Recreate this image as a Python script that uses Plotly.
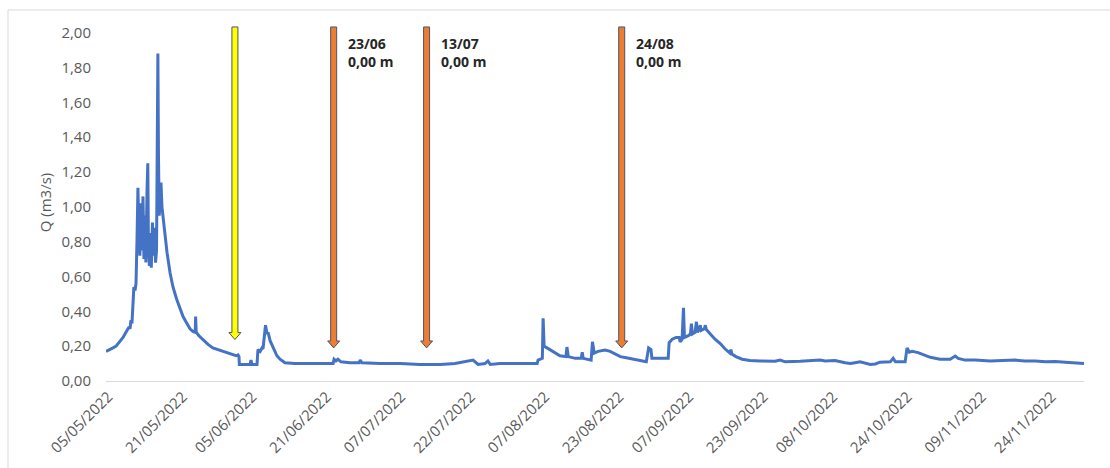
import pandas as pd
import plotly.graph_objects as go

# Discharge record (m3/s), one list pair per month: "MM-DDTHH" stamps and flow values
may_t = ["05-05T00", "05-05T21", "05-06T12", "05-07T04", "05-07T16", "05-08T00", "05-08T16",
         "05-09T02", "05-09T12", "05-09T23", "05-10T04", "05-10T09", "05-10T14", "05-10T19",
         "05-11T00", "05-11T06", "05-11T11", "05-11T16", "05-11T21", "05-12T02", "05-12T07",
         "05-12T12", "05-12T18", "05-12T23", "05-13T04", "05-13T10", "05-13T14", "05-13T20",
         "05-14T00", "05-14T03", "05-14T08", "05-14T13", "05-14T18", "05-15T00", "05-15T05",
         "05-15T10", "05-15T16", "05-15T21", "05-16T01", "05-16T04", "05-16T07", "05-16T11",
         "05-16T16", "05-16T20", "05-17T01", "05-17T06", "05-17T17", "05-18T03", "05-18T19",
         "05-19T10", "05-20T05", "05-20T22", "05-21T14", "05-22T05", "05-23T02", "05-23T17",
         "05-24T05", "05-24T07", "05-24T10", "05-25T00", "05-25T22", "05-26T23", "05-28T00",
         "05-29T02", "05-30T05", "05-31T06"]
may_q = [0.17, 0.18, 0.19, 0.20, 0.215, 0.225, 0.25,
         0.27, 0.29, 0.31, 0.30, 0.35, 0.33, 0.50,
         0.54, 0.52, 0.56, 0.80, 1.11, 0.85, 0.72,
         1.02, 0.75, 1.06, 0.70, 0.95, 0.68, 1.10,
         1.25, 0.80, 0.66, 0.85, 0.65, 0.91, 0.72,
         0.88, 0.68, 0.75, 1.50, 1.88, 1.30, 0.95,
         1.05, 1.14, 1.00, 0.95, 0.85, 0.74, 0.62,
         0.54, 0.47, 0.42, 0.37, 0.34, 0.30, 0.285,
         0.28, 0.37, 0.28, 0.26, 0.235, 0.21, 0.19,
         0.18, 0.17, 0.16]

jun_t = ["06-01T08", "06-02T00", "06-02T10", "06-02T15", "06-02T17", "06-03T22", "06-05T00",
         "06-05T05", "06-05T10", "06-06T12", "06-06T17", "06-07T04", "06-07T14", "06-07T19",
         "06-08T00", "06-08T08", "06-08T16", "06-08T21", "06-09T08", "06-09T23", "06-10T19",
         "06-11T11", "06-12T12", "06-14T16", "06-16T20", "06-20T02", "06-22T21", "06-23T02",
         "06-23T12", "06-23T22", "06-24T14", "06-26T12", "06-28T12", "06-28T17", "06-29T02"]
jun_q = [0.15, 0.145, 0.15, 0.14, 0.095, 0.093, 0.095,
         0.12, 0.095, 0.095, 0.18, 0.17, 0.19, 0.185,
         0.25, 0.32, 0.27, 0.28, 0.23, 0.19, 0.145,
         0.125, 0.105, 0.10, 0.10, 0.10, 0.10, 0.125,
         0.115, 0.125, 0.11, 0.105, 0.105, 0.12, 0.105]

jul_t = ["07-03T00", "07-07T07", "07-11T14", "07-15T22", "07-19T03", "07-23T00", "07-24T02",
         "07-25T14", "07-26T05", "07-26T17", "07-28T19"]
jul_q = [0.10, 0.10, 0.095, 0.095, 0.10, 0.12, 0.095,
         0.10, 0.115, 0.095, 0.10]

aug_t = ["08-01T01", "08-04T07", "08-05T19", "08-06T00", "08-06T22", "08-07T02", "08-07T07",
         "08-07T22", "08-08T14", "08-09T16", "08-10T17", "08-12T00", "08-12T05", "08-12T12",
         "08-14T00", "08-15T07", "08-15T12", "08-15T17", "08-17T10", "08-17T17", "08-18T02",
         "08-18T22", "08-20T10", "08-21T12", "08-22T14", "08-23T17", "08-24T17", "08-25T19",
         "08-26T21", "08-28T00", "08-29T07", "08-29T19", "08-30T07", "08-30T12"]
aug_q = [0.10, 0.10, 0.10, 0.12, 0.13, 0.36, 0.20,
         0.19, 0.18, 0.165, 0.145, 0.14, 0.195, 0.14,
         0.13, 0.13, 0.165, 0.13, 0.12, 0.225, 0.16,
         0.17, 0.178, 0.17, 0.155, 0.14, 0.135, 0.13,
         0.125, 0.118, 0.11, 0.19, 0.18, 0.13]

sep_t = ["09-01T07", "09-03T00", "09-03T05", "09-03T21", "09-04T17", "09-05T09", "09-05T14",
         "09-06T00", "09-06T07", "09-06T12", "09-07T08", "09-07T19", "09-08T00", "09-08T05",
         "09-08T19", "09-09T02", "09-09T07", "09-09T17", "09-09T22", "09-10T02", "09-10T19",
         "09-11T00", "09-11T05", "09-12T00", "09-13T02", "09-14T05", "09-15T05", "09-16T07",
         "09-16T12", "09-16T17", "09-17T14", "09-18T22", "09-20T14", "09-22T19", "09-26T00",
         "09-27T02", "09-28T05"]
sep_q = [0.13, 0.13, 0.22, 0.24, 0.25, 0.25, 0.225,
         0.24, 0.42, 0.25, 0.26, 0.27, 0.33, 0.27,
         0.28, 0.34, 0.28, 0.30, 0.32, 0.29, 0.30,
         0.32, 0.295, 0.27, 0.24, 0.215, 0.185, 0.16,
         0.18, 0.155, 0.14, 0.125, 0.118, 0.115, 0.113,
         0.12, 0.11]

oct_t = ["10-01T10", "10-04T14", "10-05T17", "10-06T19", "10-08T22", "10-11T02", "10-12T05",
         "10-13T05", "10-14T07", "10-16T12", "10-17T14", "10-18T14", "10-20T19", "10-21T10",
         "10-21T22", "10-24T00", "10-24T05", "10-24T10", "10-24T22", "10-25T12", "10-26T19",
         "10-28T02", "10-29T10", "10-31T12"]
oct_q = [0.113, 0.115, 0.12, 0.115, 0.118, 0.105, 0.10,
         0.105, 0.11, 0.095, 0.098, 0.108, 0.11, 0.13,
         0.11, 0.11, 0.16, 0.19, 0.165, 0.17, 0.163,
         0.15, 0.136, 0.125]

nov_t = ["11-02T17", "11-03T19", "11-04T10", "11-05T22", "11-08T02", "11-11T07", "11-14T12",
         "11-16T17", "11-18T19", "11-21T00", "11-23T05", "11-25T07", "11-27T12", "11-29T14",
         "12-01T12"]
nov_q = [0.125, 0.143, 0.13, 0.12, 0.12, 0.115, 0.118,
         0.12, 0.115, 0.115, 0.11, 0.112, 0.108, 0.105,
         0.10]

stamps = may_t + jun_t + jul_t + aug_t + sep_t + oct_t + nov_t
flow = may_q + jun_q + jul_q + aug_q + sep_q + oct_q + nov_q
assert len(stamps) == len(flow)
times = pd.to_datetime(["2022-" + s + ":00" for s in stamps])

tick_labels = ["05/05/2022", "21/05/2022", "05/06/2022", "21/06/2022", "07/07/2022",
               "22/07/2022", "07/08/2022", "23/08/2022", "07/09/2022", "23/09/2022",
               "08/10/2022", "24/10/2022", "09/11/2022", "24/11/2022"]
y_ticks = [0.0, 0.2, 0.4, 0.6, 0.8, 1.0, 1.2, 1.4, 1.6, 1.8, 2.0]

# Field visits: date, arrow fill, arrow tip level, caption (date + measured depth)
visit_dates = ["2022-06-01 18:00", "2022-06-23", "2022-07-13", "2022-08-24"]
visit_fill = ["#FFFF00", "#ED7D31", "#ED7D31", "#ED7D31"]
visit_tip = [0.238, 0.19, 0.19, 0.19]
visit_day = [None, "23/06", "13/07", "24/08"]
visit_depth = [None, "0,00 m", "0,00 m", "0,00 m"]

tick_vals = pd.to_datetime(tick_labels, format="%d/%m/%Y") + pd.Timedelta(hours=12)

GREY = "#595959"
FONT = "Open Sans"
ARROW_TOP = 2.033  # all arrows start just under the top of the plot

fig = go.Figure()
fig.add_trace(go.Scatter(
    x=times, y=flow, mode="lines",
    line=dict(color="#4472C4", width=3),
    hoverinfo="x+y", showlegend=False,
))

# Block arrows pointing down at each visit date
for d, fill, tip in zip(visit_dates, visit_fill, visit_tip):
    fig.add_shape(
        type="path",
        path=(f"M -3,{ARROW_TOP} L 3,{ARROW_TOP} L 3,{tip + 0.04} L 6,{tip + 0.04} "
              f"L 0,{tip} L -6,{tip + 0.04} L -3,{tip + 0.04} Z"),
        xref="x", xsizemode="pixel", xanchor=d,
        yref="y",
        fillcolor=fill, line=dict(color="#4B5566", width=1),
        layer="above",
    )

for d, day, depth in zip(visit_dates, visit_day, visit_depth):
    if day is None:
        continue
    fig.add_annotation(
        x=d, xref="x", xanchor="left", xshift=12,
        y=1, yref="paper", yanchor="top", yshift=-8,
        text=f"<b>{day}</b><br><b>{depth}</b>", align="left", showarrow=False,
        font=dict(family=FONT, size=14, color="#262626"),
    )

# Outer chart frame
fig.add_shape(type="rect", xref="paper", yref="paper",
              x0=(8 - 106) / 978, x1=1.2, y0=-0.5, y1=(381 - 10) / 357,
              line=dict(color="#D9D9D9", width=1), fillcolor="rgba(0,0,0,0)",
              layer="below")

fig.update_layout(
    width=1110, height=468,
    margin=dict(l=106, r=26, t=24, b=87),
    paper_bgcolor="white", plot_bgcolor="white",
    separators=",.",
    font=dict(family=FONT, color=GREY, size=15),
    xaxis=dict(
        type="date", range=["2022-05-05 00:00", "2022-12-01 12:00"],
        tickmode="array", tickvals=tick_vals, ticktext=tick_labels,
        tickangle=-45, tickfont=dict(family=FONT, size=15, color=GREY),
        showgrid=False, zeroline=False, showline=True, linecolor="#D9D9D9",
        linewidth=1, ticks="",
    ),
    yaxis=dict(
        range=[0, 2.05], tickmode="array", tickvals=y_ticks, tickformat=".2f",
        tickfont=dict(family=FONT, size=15, color=GREY),
        showgrid=False, zeroline=False, showline=False, ticks="",
        ticklabelstandoff=14,
        title=dict(text="Q (m3/s)", font=dict(family=FONT, size=15, color=GREY), standoff=6),
    ),
)

fig.write_html("out.html")
